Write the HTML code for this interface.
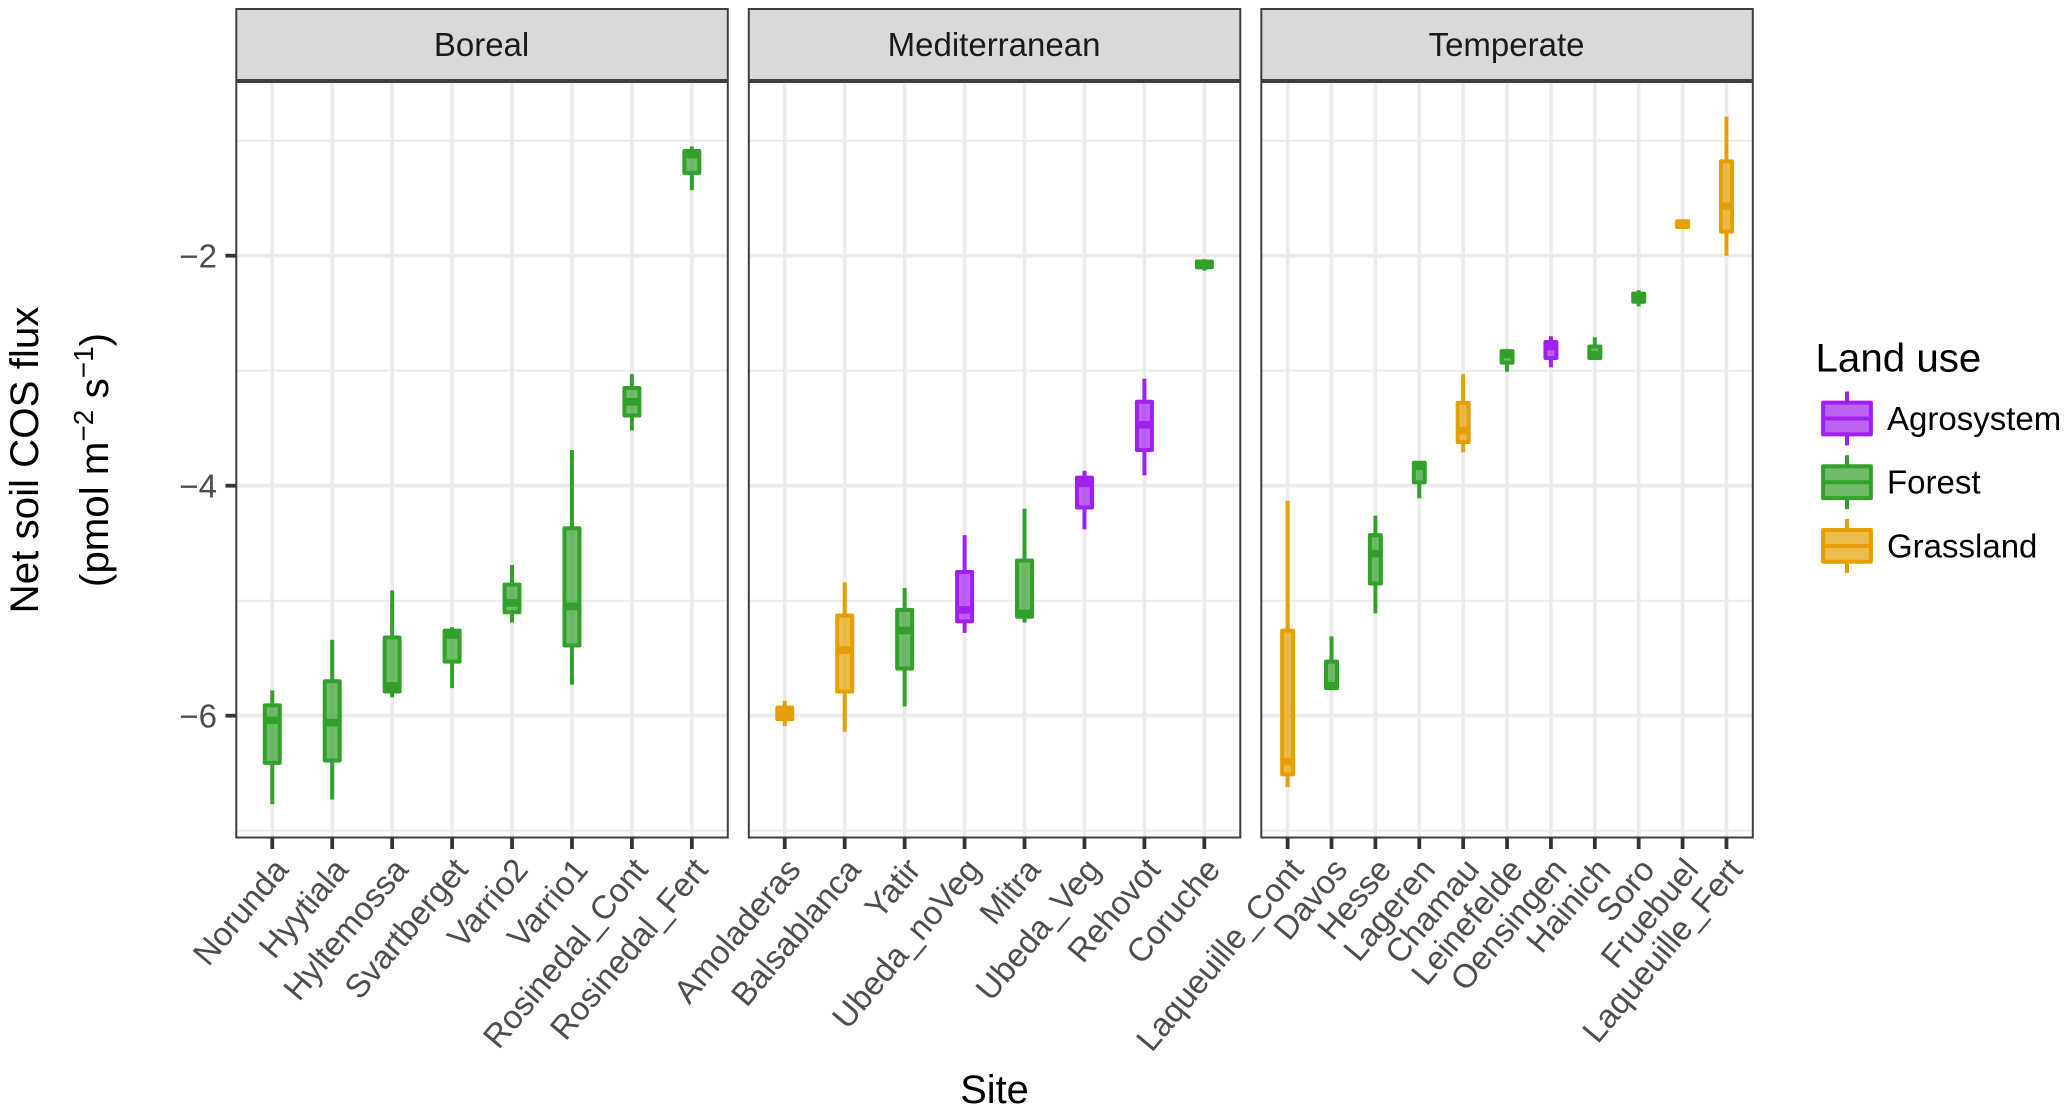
<!DOCTYPE html>
<html lang="en">
<head>
<meta charset="utf-8">
<title>Net soil COS flux by site</title>
<style>
html,body{margin:0;padding:0;background:#fff;}
svg{display:block;font-family:"Liberation Sans",Arial,sans-serif;}
</style>
</head>
<body>
<svg id="chart" xmlns="http://www.w3.org/2000/svg" width="2067" height="1109" viewBox="0 0 2067 1109">
  <rect x="0" y="0" width="2067" height="1109" fill="#ffffff"/>
  <g id="panels"></g>
  <g id="y-axis"></g>

  <text transform="translate(38,460) rotate(-90)" text-anchor="middle" font-size="40.3" fill="#000">Net soil COS flux</text>
  <text transform="translate(108,460) rotate(-90)" text-anchor="middle" font-size="40.3" fill="#000">(pmol m<tspan font-size="28" dy="-15">−2</tspan><tspan dy="15"> s</tspan><tspan font-size="28" dy="-15">−1</tspan><tspan dy="15">)</tspan></text>
  <text x="994.5" y="1103" text-anchor="middle" font-size="39.8" fill="#000">Site</text>

  <g id="legend">
    <text x="1815.5" y="371.5" font-size="40.3" fill="#000">Land use</text>
  </g>
</svg>
<script>
// ---- Chart data ----
const yMajorTicks = [-2, -4, -6];
const yMinorTicks = [-1, -3, -5, -7];

const panelNames = ["Boreal", "Mediterranean", "Temperate"];

const borealSites = ["Norunda", "Hyytiala", "Hyltemossa", "Svartberget", "Varrio2", "Varrio1", "Rosinedal_Cont", "Rosinedal_Fert"];
const borealUse = ["Forest", "Forest", "Forest", "Forest", "Forest", "Forest", "Forest", "Forest"];
const borealHigh = [-5.78, -5.34, -4.91, -5.23, -4.69, -3.69, -3.03, -1.05];
const borealQ3 = [-5.91, -5.70, -5.32, -5.26, -4.86, -4.37, -3.15, -1.09];
const borealMedian = [-6.04, -6.06, -5.74, -5.30, -5.02, -5.05, -3.27, -1.12];
const borealQ1 = [-6.41, -6.39, -5.79, -5.53, -5.10, -5.39, -3.39, -1.28];
const borealLow = [-6.77, -6.73, -5.84, -5.76, -5.19, -5.73, -3.52, -1.43];

const medSites = ["Amoladeras", "Balsablanca", "Yatir", "Ubeda_noVeg", "Mitra", "Ubeda_Veg", "Rehovot", "Coruche"];
const medUse = ["Grassland", "Grassland", "Forest", "Agrosystem", "Forest", "Agrosystem", "Agrosystem", "Forest"];
const medHigh = [-5.87, -4.84, -4.89, -4.43, -4.20, -3.87, -3.07, -2.03];
const medQ3 = [-5.93, -5.13, -5.08, -4.75, -4.65, -3.93, -3.27, -2.05];
const medMedian = [-5.98, -5.43, -5.26, -5.08, -5.11, -3.98, -3.47, -2.07];
const medQ1 = [-6.03, -5.79, -5.59, -5.18, -5.14, -4.19, -3.69, -2.10];
const medLow = [-6.09, -6.14, -5.92, -5.28, -5.19, -4.38, -3.91, -2.13];

const tempSites = ["Laqueuille_Cont", "Davos", "Hesse", "Lageren", "Chamau", "Leinefelde", "Oensingen", "Hainich", "Soro", "Fruebuel", "Laqueuille_Fert"];
const tempUse = ["Grassland", "Forest", "Forest", "Forest", "Grassland", "Forest", "Agrosystem", "Forest", "Forest", "Grassland", "Grassland"];
const tempHigh = [-4.13, -5.31, -4.26, -3.79, -3.03, -2.81, -2.70, -2.71, -2.30, -1.69, -0.79];
const tempQ3 = [-5.26, -5.53, -4.43, -3.80, -3.28, -2.83, -2.75, -2.79, -2.33, -1.70, -1.18];
const tempMedian = [-6.40, -5.74, -4.59, -3.83, -3.52, -2.86, -2.79, -2.86, -2.37, -1.72, -1.57];
const tempQ1 = [-6.51, -5.76, -4.85, -3.97, -3.62, -2.93, -2.89, -2.89, -2.40, -1.75, -1.79];
const tempLow = [-6.62, -5.77, -5.11, -4.11, -3.71, -3.01, -2.97, -2.89, -2.44, -1.76, -2.00];

const legendOrder = ["Agrosystem", "Forest", "Grassland"];
const useColors = { Agrosystem: "#a020f0", Forest: "#33a02c", Grassland: "#e69f00" };

// ---- Layout and scales ----
const SVG_NS = "http://www.w3.org/2000/svg";
const PANEL_TOP = 82, PANEL_BOTTOM = 837.5, PANEL_WIDTH = 491.5;
const STRIP_TOP = 9, STRIP_BOTTOM = 80;
const panelLefts = [236.3, 748.8, 1261.3];
const STROKE = 4;

function yScale(v) { return 255.7 + (-2 - v) * 115; }
function bandStep(count) { return PANEL_WIDTH / (count - 1 + 1.2); }
function xScale(panelIndex, i, count) { return panelLefts[panelIndex] + (0.6 + i) * bandStep(count); }

function make(tag, attrs, parent) {
  const el = document.createElementNS(SVG_NS, tag);
  for (const k in attrs) el.setAttribute(k, attrs[k]);
  parent.appendChild(el);
  return el;
}

function slug(s) { return s.toLowerCase().replace(/[^a-z0-9]+/g, "-"); }

function drawBox(parent, cx, halfW, low, q1, med, q3, high, use, site) {
  const color = useColors[use];
  const g = make("g", {}, parent);
  
  
  const upper = make("line", { x1: cx, x2: cx, y1: yScale(high), y2: yScale(q3), stroke: color, "stroke-width": STROKE }, g);
  
  
  const lower = make("line", { x1: cx, x2: cx, y1: yScale(q1), y2: yScale(low), stroke: color, "stroke-width": STROKE }, g);
  
  
  const box = make("rect", {
    x: cx - halfW, y: yScale(q3), width: 2 * halfW, height: yScale(q1) - yScale(q3),
    fill: color, "fill-opacity": 0.7, stroke: color, "stroke-width": STROKE, "stroke-linejoin": "round"
  }, g);
  
  
  const medLine = make("line", { x1: cx - halfW, x2: cx + halfW, y1: yScale(med), y2: yScale(med), stroke: color, "stroke-width": 7.6 }, g);
  
  
}

function drawPanel(panelIndex, sites, uses, low, q1, med, q3, high) {
  const root = document.getElementById("panels");
  const left = panelLefts[panelIndex];
  const right = left + PANEL_WIDTH;
  const n = sites.length;
  const name = slug(panelNames[panelIndex]);

  const panel = make("g", {}, root);
  
  

  const bg = make("rect", { x: left, y: PANEL_TOP, width: PANEL_WIDTH, height: PANEL_BOTTOM - PANEL_TOP, fill: "#fff" }, panel);
  
  

  yMinorTicks.forEach(function (t) {
    const gl = make("line", { x1: left, x2: right, y1: yScale(t), y2: yScale(t), stroke: "#ebebeb", "stroke-width": 1.8 }, panel);
    
    
  });
  yMajorTicks.forEach(function (t) {
    const gl = make("line", { x1: left, x2: right, y1: yScale(t), y2: yScale(t), stroke: "#ebebeb", "stroke-width": 3.6 }, panel);
    
    
  });
  sites.forEach(function (s, i) {
    const x = xScale(panelIndex, i, n);
    const gl = make("line", { x1: x, x2: x, y1: PANEL_TOP, y2: PANEL_BOTTOM, stroke: "#ebebeb", "stroke-width": 3.6 }, panel);
    
    
  });

  const halfW = bandStep(n) * 0.125;
  sites.forEach(function (s, i) {
    drawBox(panel, xScale(panelIndex, i, n), halfW, low[i], q1[i], med[i], q3[i], high[i], uses[i], s);
  });

  const border = make("rect", { x: left, y: PANEL_TOP, width: PANEL_WIDTH, height: PANEL_BOTTOM - PANEL_TOP, fill: "none", stroke: "#3f3f3f", "stroke-width": 2 }, panel);
  
  

  const strip = make("rect", { x: left, y: STRIP_TOP, width: PANEL_WIDTH, height: STRIP_BOTTOM - STRIP_TOP, fill: "#d9d9d9", stroke: "#3f3f3f", "stroke-width": 2 }, panel);
  
  

  const stripLabel = make("text", { x: left + PANEL_WIDTH / 2 - 0.5, y: 56, "text-anchor": "middle", "font-size": 33, fill: "#1a1a1a" }, panel);
  stripLabel.textContent = panelNames[panelIndex];
  
  

  sites.forEach(function (s, i) {
    const x = xScale(panelIndex, i, n);
    const tick = make("line", { x1: x, x2: x, y1: PANEL_BOTTOM, y2: 849, stroke: "#333333", "stroke-width": 3.8 }, panel);
    
    
    const lx = x + 17.5, ly = 870.5;
    const label = make("text", { transform: "translate(" + lx + "," + ly + ") rotate(-50)", "text-anchor": "end", "font-size": 33, fill: "#4d4d4d" }, panel);
    label.textContent = s;
    
    
  });
}

function drawYAxis() {
  const root = document.getElementById("y-axis");
  yMajorTicks.forEach(function (t) {
    const y = yScale(t);
    const tick = make("line", { x1: 225.5, x2: 236, y1: y, y2: y, stroke: "#333333", "stroke-width": 3.8 }, root);
    
    
    const label = make("text", { x: 217, y: y + 11.7, "text-anchor": "end", "font-size": 33, fill: "#4d4d4d" }, root);
    label.textContent = "\u2212" + Math.abs(t);
    
    
  });
}

function drawLegend() {
  const root = document.getElementById("legend");
  const keySize = 63.7, cx = 1847, firstCy = 418.5;
  legendOrder.forEach(function (use, i) {
    const cy = firstCy + i * keySize;
    const color = useColors[use];
    const g = make("g", {}, root);
    
    
    const whisker = make("line", { x1: cx, x2: cx, y1: cy - 27, y2: cy + 27, stroke: color, "stroke-width": STROKE }, g);
    
    
    const bgBox = make("rect", { x: cx - 23.9, y: cy - 15.9, width: 47.8, height: 31.8, fill: "#fff" }, g);
    
    
    const box = make("rect", { x: cx - 23.9, y: cy - 15.9, width: 47.8, height: 31.8, fill: color, "fill-opacity": 0.7, stroke: color, "stroke-width": STROKE, "stroke-linejoin": "round" }, g);
    
    
    const mid = make("line", { x1: cx - 23.9, x2: cx + 23.9, y1: cy, y2: cy, stroke: color, "stroke-width": STROKE }, g);
    
    
    const label = make("text", { x: 1887, y: cy + 11.5, "font-size": 33, fill: "#000" }, g);
    label.textContent = use;
    
    
  });
}

drawPanel(0, borealSites, borealUse, borealLow, borealQ1, borealMedian, borealQ3, borealHigh);
drawPanel(1, medSites, medUse, medLow, medQ1, medMedian, medQ3, medHigh);
drawPanel(2, tempSites, tempUse, tempLow, tempQ1, tempMedian, tempQ3, tempHigh);
drawYAxis();
drawLegend();
</script>
</body>
</html>
